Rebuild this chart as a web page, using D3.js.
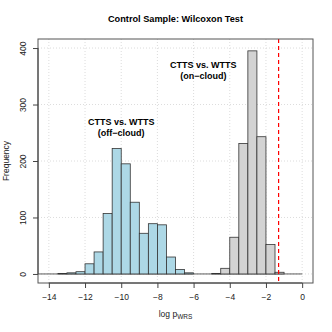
<!DOCTYPE html>
<html>
<head>
<meta charset="utf-8">
<script src="https://cdn.jsdelivr.net/npm/d3@7"></script>
<style>
  body { margin: 0; background: #fff; }
  text { font-family: "Liberation Sans", Arial, sans-serif; }
</style>
</head>
<body>
<div id="chart"></div>
<script>
// histogram bins (lower edge, width 0.5) and counts
const binWidth = 0.5
const offCloudBins = [-13.5, -13, -12.5, -12, -11.5, -11, -10.5, -10, -9.5, -9, -8.5, -8, -7.5, -7, -6.5]
const offCloudCounts = [1, 2, 4, 18, 39, 107, 222, 195, 127, 72, 89, 87, 30, 8, 2]
const onCloudBins = [-5, -4.5, -4, -3.5, -3, -2.5, -2, -1.5]
const onCloudCounts = [1, 10, 65, 231, 395, 243, 52, 3]
const xTicks = [-14, -12, -10, -8, -6, -4, -2, 0]
const yTicks = [0, 100, 200, 300, 400]
const pThreshold = Math.log10(0.05)

const W = 332, H = 332
const margin = {top: 39, right: 19, bottom: 49, left: 38}
const width = W - margin.left - margin.right
const height = H - margin.top - margin.bottom

const x = d3.scaleLinear().domain([-14.6, 0.6]).range([0, width])
const y = d3.scaleLinear().domain([-16, 416]).range([height, 0])

const svg = d3.select('#chart').append('svg')
  .attr('width', W)
  .attr('height', H)

svg.append('text')
  .attr('x', margin.left + width / 2)
  .attr('y', 22)
  .attr('text-anchor', 'middle')
  .style('font-size', '9.2px')
  .style('font-weight', 'bold')
  .text('Control Sample: Wilcoxon Test')

const g = svg.append('g')
  .attr('transform', `translate(${margin.left}, ${margin.top})`)

g.append('clipPath').attr('id', 'clip')
  .append('rect').attr('width', width).attr('height', height)

// grid
g.selectAll('.gx').data(xTicks)
  .enter().append('line')
    .attr('x1', (d) => x(d)).attr('x2', (d) => x(d))
    .attr('y1', 0).attr('y2', height)
    .attr('stroke', '#d3d3d3').attr('stroke-width', 0.8)
    .attr('stroke-dasharray', '1,2')
g.selectAll('.gy').data(yTicks)
  .enter().append('line')
    .attr('x1', 0).attr('x2', width)
    .attr('y1', (d) => y(d)).attr('y2', (d) => y(d))
    .attr('stroke', '#d3d3d3').attr('stroke-width', 0.8)
    .attr('stroke-dasharray', '1,2')

const plot = g.append('g').attr('clip-path', 'url(#clip)')

plot.append('line')
  .attr('x1', 0).attr('x2', x(0))
  .attr('y1', y(0)).attr('y2', y(0))
  .attr('stroke', '#333').attr('stroke-width', 0.8)

function drawHist(bins, counts, fill) {
  plot.selectAll(null).data(bins.map((b, i) => ({x0: b, n: counts[i]})))
    .enter().append('rect')
      .attr('x', (d) => x(d.x0))
      .attr('width', (d) => x(d.x0 + binWidth) - x(d.x0))
      .attr('y', (d) => y(d.n))
      .attr('height', (d) => y(0) - y(d.n))
      .attr('fill', fill)
      .attr('stroke', '#333')
      .attr('stroke-width', 0.8)
}
drawHist(offCloudBins, offCloudCounts, '#add8e6')
drawHist(onCloudBins, onCloudCounts, '#d3d3d3')

plot.append('line')
  .attr('x1', x(pThreshold)).attr('x2', x(pThreshold))
  .attr('y1', 0).attr('y2', height)
  .attr('stroke', '#ff0000').attr('stroke-width', 1.2)
  .attr('stroke-dasharray', '4,3')

// annotations
function label(cx, lines, y0) {
  lines.forEach((t, i) => {
    g.append('text')
      .attr('x', x(cx))
      .attr('y', y0 + i * 11)
      .attr('text-anchor', 'middle')
      .style('font-size', '9px')
      .style('font-weight', 'bold')
      .text(t)
  })
}
label(-10, ['CTTS vs. WTTS', '(off\u2212cloud)'], 125 - margin.top)
label(-5.46, ['CTTS vs. WTTS', '(on\u2212cloud)'], 68 - margin.top)

// box
g.append('rect')
  .attr('width', width).attr('height', height)
  .attr('fill', 'none').attr('stroke', '#555').attr('stroke-width', 1)

// axes
const xAxis = g.append('g')
  .attr('transform', `translate(0, ${height})`)
  .call(d3.axisBottom(x).tickValues(xTicks).tickSize(5).tickPadding(6))
xAxis.select('.domain').attr('d', `M${x(-14)},0H${x(0)}`)
const yAxis = g.append('g')
  .call(d3.axisLeft(y).tickValues(yTicks).tickSize(5))
yAxis.select('.domain').attr('d', `M0,${y(0)}V${y(400)}`)
g.selectAll('.tick line, .domain').attr('stroke', '#444')
g.selectAll('.tick text')
  .style('font-family', '"Liberation Sans", Arial, sans-serif')
  .style('font-size', '8.5px')
  .attr('fill', '#222')
yAxis.selectAll('.tick text')
  .attr('text-anchor', 'middle')
  .attr('dy', null)
  .attr('x', null)
  .attr('transform', 'translate(-12, 0) rotate(-90)')

svg.append('text')
  .attr('x', margin.left + width / 2)
  .attr('y', 316.5)
  .attr('text-anchor', 'middle')
  .style('font-size', '8.5px')
  .attr('fill', '#222')
  .text('log p')
  .append('tspan')
    .attr('dy', 2.5)
    .style('font-size', '6.5px')
    .text('WRS')

svg.append('text')
  .attr('transform', `translate(9, ${margin.top + height / 2}) rotate(-90)`)
  .attr('text-anchor', 'middle')
  .style('font-size', '8.5px')
  .attr('fill', '#222')
  .text('Frequency')
</script>
</body>
</html>
